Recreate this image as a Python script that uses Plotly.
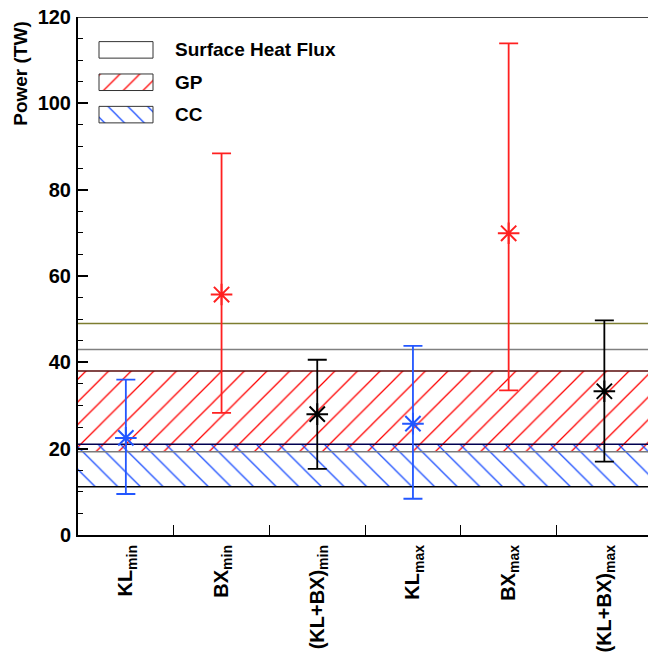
import plotly.graph_objects as go

# Estimates of power (TW) for each method
categories = ["KL<sub>min</sub>", "BX<sub>min</sub>", "(KL+BX)<sub>min</sub>",
              "KL<sub>max</sub>", "BX<sub>max</sub>", "(KL+BX)<sub>max</sub>"]
power_mid = [22.5, 55.7, 28.0, 25.8, 69.9, 33.3]
power_hi = [36.0, 88.4, 40.6, 43.8, 113.9, 49.7]
power_lo = [9.5, 28.3, 15.3, 8.4, 33.5, 17.0]
point_colors = ["#2357ff", "#ff2020", "#000000", "#2357ff", "#ff2020", "#000000"]

# Reference bands (lower, upper)
heat_flux_band = [43.0, 49.0]
gp_band = [19.3, 38.0]
cc_band = [11.2, 21.0]

y_ticks = [0, 20, 40, 60, 80, 100, 120]
legend_names = ["Surface Heat Flux", "GP", "CC"]

FONT = "Liberation Sans"
W, H = 648, 652
ML, MR, MT, MB = 78, 0, 17, 115
x_pos = list(range(len(categories)))
x_lo = -0.5
x_hi = -0.5 + (W - ML - MR) / 95.7

fig = go.Figure()

# Hatched bands
def band(lo, hi, shape, color, size):
    return go.Scatter(
        x=[x_lo, x_hi + 1, x_hi + 1, x_lo, x_lo], y=[lo, lo, hi, hi, lo],
        mode="lines", line=dict(width=0, color="rgba(0,0,0,0)"),
        fill="toself", fillcolor="rgba(0,0,0,0)",
        fillpattern=dict(shape=shape, fgcolor=color, fgopacity=1,
                         bgcolor="rgba(0,0,0,0)",
                         size=size, solidity=0.08, fillmode="replace"),
        hoverinfo="skip", showlegend=False)

fig.add_trace(band(gp_band[0], gp_band[1], "/", "#ff0000", 16))
fig.add_trace(band(cc_band[0], cc_band[1], "\\", "#1a4dff", 16))

# Band edge lines
edges = [
    (heat_flux_band[1], "#7d7d30"),
    (heat_flux_band[0], "#808080"),
    (gp_band[1], "#5a0a0a"),
    (gp_band[0], "#7a7a7a"),
    (cc_band[1], "#000050"),
    (cc_band[0], "#000000"),
]
for yv, c in edges:
    fig.add_trace(go.Scatter(x=[x_lo, x_hi + 1], y=[yv, yv], mode="lines",
                             line=dict(color=c, width=1.5),
                             hoverinfo="skip", showlegend=False))

# Estimates with uncertainty ranges
for i in range(len(categories)):
    fig.add_trace(go.Scatter(
        x=[x_pos[i]], y=[power_mid[i]], mode="markers",
        marker=dict(symbol="asterisk-open", size=18, color=point_colors[i],
                    line=dict(color=point_colors[i], width=2)),
        error_y=dict(type="data", symmetric=False,
                     array=[power_hi[i] - power_mid[i]],
                     arrayminus=[power_mid[i] - power_lo[i]],
                     color=point_colors[i], thickness=1.8, width=9.5),
        showlegend=False, hoverinfo="skip"))

# Legend drawn in a pixel-space overlay
PW, PH = W - ML - MR, H - MT - MB
box_x = [99, 153]
row_y = [50, 82.5, 115]
box_h = 16.6
leg_patterns = [("", "#000000"), ("/", "#ff0000"), ("\\", "#1a4dff")]
for (shape, c), yc, name in zip(leg_patterns, row_y, legend_names):
    y0, y1 = yc - box_h / 2, yc + box_h / 2
    fp = dict(shape=shape, fgcolor=c, fgopacity=1, bgcolor="white", size=14,
              solidity=0.09, fillmode="replace") if shape else None
    fig.add_trace(go.Scatter(
        x=[box_x[0], box_x[1], box_x[1], box_x[0], box_x[0]],
        y=[y0, y0, y1, y1, y0], xaxis="x2", yaxis="y2",
        mode="lines", line=dict(color="#333333", width=1),
        fill="toself", fillcolor="white",
        fillpattern=fp,
        hoverinfo="skip", showlegend=False))
    fig.add_annotation(x=173, y=yc, xref="x2", yref="y2", text=name,
                       showarrow=False, xanchor="left", yanchor="middle",
                       font=dict(family=FONT, size=19, color="black", weight="bold"))

# Y-axis title
fig.add_annotation(x=(21 - ML) / PW, y=(H - MB - 74) / PH, xref="paper", yref="paper",
                   text="Power (TW)", textangle=-90, showarrow=False,
                   xanchor="center", yanchor="middle",
                   font=dict(family=FONT, size=19, color="black", weight="bold"))

# Top frame line
fig.add_shape(type="line", xref="paper", yref="y", x0=0, x1=1, y0=120, y1=120,
              line=dict(color="#454545", width=2))

fig.update_layout(
    width=W, height=H,
    margin=dict(l=ML, r=MR, t=MT, b=MB, pad=0),
    paper_bgcolor="white", plot_bgcolor="white",
    showlegend=False,
    xaxis=dict(range=[x_lo, x_hi], tickmode="array", tickvals=x_pos,
               ticktext=categories, tickangle=-90, ticks="",
               showline=True, linecolor="black", linewidth=2,
               showgrid=False, zeroline=False,
               tickfont=dict(family=FONT, size=20, color="black", weight="bold"),
               minor=dict(tickmode="array", tickvals=[p + 0.5 for p in x_pos[:-1]],
                          ticks="inside", ticklen=10, tickwidth=1.2, tickcolor="black",
                          showgrid=False)),
    yaxis=dict(range=[0, 120], tickmode="array", tickvals=y_ticks,
               ticks="inside", ticklen=10, tickwidth=1.5, tickcolor="black",
               showline=True, linecolor="black", linewidth=2,
               showgrid=False, zeroline=False, ticklabelstandoff=1,
               tickfont=dict(family=FONT, size=20, color="black", weight="bold"),
               minor=dict(dtick=5, tick0=0, ticks="inside", ticklen=5, tickwidth=1.2,
                          tickcolor="black", showgrid=False)),
    xaxis2=dict(range=[ML, W - MR], overlaying="x", anchor="y2", visible=False,
                fixedrange=True),
    yaxis2=dict(range=[H - MB, MT], overlaying="y", anchor="x2", visible=False,
                fixedrange=True),
)

fig.write_html("out.html")
